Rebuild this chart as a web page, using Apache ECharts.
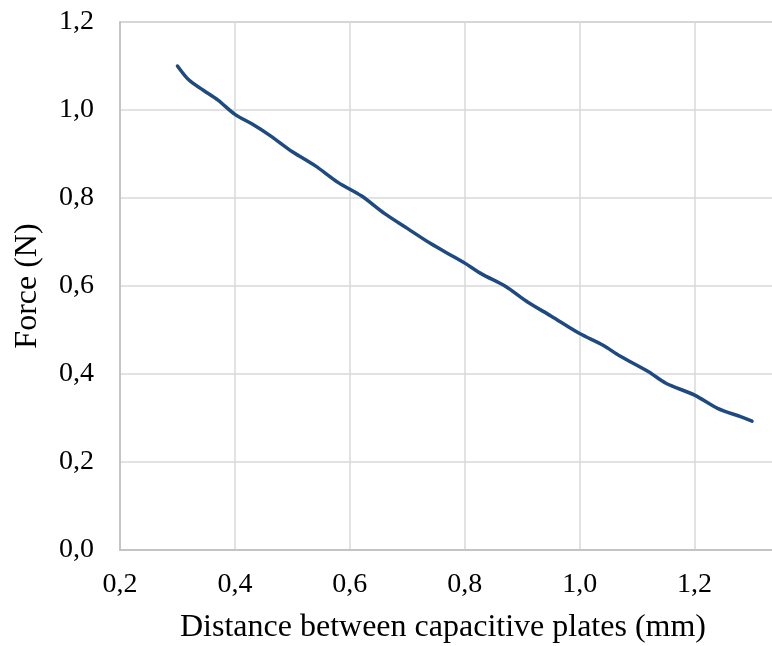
<!DOCTYPE html>
<html>
<head>
<meta charset="utf-8">
<script src="https://cdn.jsdelivr.net/npm/echarts@6/dist/echarts.min.js"></script>
<style>
html,body{margin:0;padding:0;overflow:hidden;background:#fff;}
#chart{width:830px;height:646px;}
</style>
</head>
<body>
<div id="chart"></div>
<script>
const distance = [0.30,0.32,0.345,0.37,0.40,0.43,0.46,0.50,0.54,0.58,0.62,0.66,0.70,0.74,0.78,0.80,0.83,0.87,0.91,0.95,1.00,1.04,1.07,1.12,1.15,1.20,1.24,1.28,1.30];
const force = [1.10,1.068,1.045,1.023,0.99,0.968,0.943,0.905,0.873,0.835,0.805,0.765,0.731,0.697,0.667,0.652,0.627,0.600,0.563,0.532,0.492,0.466,0.441,0.405,0.379,0.352,0.322,0.303,0.293];
const xTitle = 'Distance between capacitive plates (mm)';
const yTitle = 'Force (N)';

const chart = echarts.init(document.getElementById('chart'), null, {renderer:'canvas'});
const fmt = v => v.toFixed(1).replace('.', ',');
const font = '"Liberation Serif","Times New Roman",serif';
chart.setOption({
  animation:false,
  backgroundColor:'#fff',
  grid:{left:120, top:22, width:691, height:528, show:true, borderColor:'#bfbfbf', borderWidth:1.5},
  xAxis:{
    type:'value', min:0.2, max:1.4, interval:0.2,
    axisLine:{show:true, lineStyle:{color:'#bfbfbf', width:1.5}},
    axisTick:{show:false},
    splitLine:{show:true, lineStyle:{color:'#d9d9d9', width:1.5}},
    axisLabel:{formatter:fmt, color:'#000', fontFamily:font, fontSize:28, margin:21}
  },
  yAxis:{
    type:'value', min:0, max:1.2, interval:0.2,
    name:yTitle, nameLocation:'middle', nameGap:76, nameRotate:90,
    nameTextStyle:{color:'#000', fontFamily:font, fontSize:32},
    axisLine:{show:true, lineStyle:{color:'#bfbfbf', width:1.5}},
    axisTick:{show:false},
    splitLine:{show:true, lineStyle:{color:'#d9d9d9', width:1.5}},
    axisLabel:{formatter:fmt, color:'#000', fontFamily:font, fontSize:28, margin:26}
  },
  graphic:[{
    type:'text', x:443, y:628,
    style:{text:xTitle, fill:'#000', font:'32px "Liberation Serif", serif', textAlign:'center', textVerticalAlign:'middle'}
  }],
  series:[{
    type:'line',
    data:distance.map((d,i)=>[d, force[i]]),
    showSymbol:false, smooth:0.3,
    lineStyle:{color:'#1f4a7f', width:3.5, cap:'round'}
  }]
});
</script>
</body>
</html>
